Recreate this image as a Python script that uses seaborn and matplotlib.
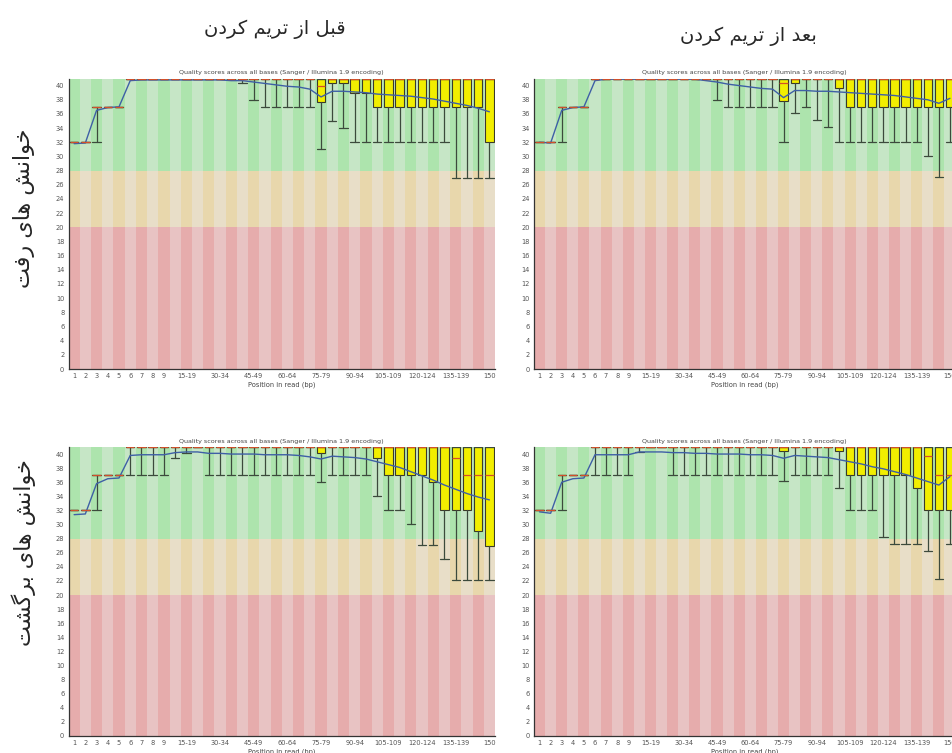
import matplotlib.pyplot as plt
import seaborn as sns

sns.set_style("white")
plt.rcParams['font.family'] = ['DejaVu Sans']

# ------------------ DATA ------------------ #
# FastQC position groups: 1..9, 10-14 ... 145-149, 150
groups = [str(i) for i in range(1, 10)] + ['%d-%d' % (s, s + 4) for s in range(10, 150, 5)] + ['150']
shown_ticks = ['1', '2', '3', '4', '5', '6', '7', '8', '9', '15-19', '30-34', '45-49', '60-64',
               '75-79', '90-94', '105-109', '120-124', '135-139', '150']

col_titles = ['قبل از تریم کردن', 'بعد از تریم کردن']
row_titles = ['خوانش های رفت', 'خوانش های برگشت']
plot_title = 'Quality scores across all bases (Sanger / Illumina 1.9 encoding)'

# forward reads, before trimming
fb_med = [32, 32, 37, 37, 37] + [41] * 17 + [40] + [41] * 15
fb_q1 = [32, 32, 37, 37, 37] + [41] * 17 + [37.7, 40.4, 40.4, 38.9, 38.9] + [37] * 10 + [32]
fb_q3 = [32, 32, 37, 37, 37] + [41] * 33
fb_lo = [32, 32, 32, 37, 37] + [41] * 10 + [40.4, 38] + [37] * 5 + [31, 35, 34] + [32] * 9 + [27] * 4
fb_mean = [31.8, 31.9, 36.5, 36.9, 37.0, 40.7, 40.8, 40.8, 40.8, 40.8, 40.8, 40.8, 40.8, 40.8,
           40.7, 40.7, 40.5, 40.3, 40.1, 39.9, 39.8, 39.5, 38.4, 39.2, 39.2, 39.1, 39.0, 38.8,
           38.7, 38.6, 38.5, 38.3, 38.1, 37.8, 37.5, 37.2, 36.8, 36.3]

# forward reads, after trimming
fa_med = [32, 32, 37, 37, 37] + [41] * 17 + [40.4] + [41] * 15
fa_q1 = [32, 32, 37, 37, 37] + [41] * 17 + [37.8, 40.4, 41, 41, 41, 39.7] + [37] * 10
fa_q3 = [32, 32, 37, 37, 37] + [41] * 33
fa_lo = [32, 32, 32, 37, 37] + [41] * 11 + [38] + [37] * 5 + [32, 36.2, 37, 35.1, 34.2, 32] \
    + [32] * 7 + [30.1, 27.1, 32]
fa_mean = [32.0, 31.9, 36.5, 36.9, 37.0, 40.7, 40.9, 40.9, 40.9, 40.9, 40.9, 40.9, 40.9, 40.9,
           40.9, 40.7, 40.5, 40.2, 40.0, 39.8, 39.6, 39.5, 38.3, 39.3, 39.3, 39.2, 39.2, 39.1,
           39.0, 38.9, 38.8, 38.7, 38.6, 38.4, 38.2, 38.0, 37.5, 38.2]

# reverse reads, before trimming
rb_med = [32, 32, 37, 37, 37] + [41] * 29 + [39.4, 37, 37, 37]
rb_q1 = [32, 32, 37, 37, 37] + [41] * 17 + [40.2, 41, 41, 41, 41, 39.5, 37, 37, 37, 37, 36.1,
                                             32, 32, 32, 29.1, 27]
rb_q3 = [32, 32, 37, 37, 37] + [41] * 33
rb_lo = [32, 32, 32, 37, 37, 37, 37, 37, 37, 39.4, 40.2, 41] + [37] * 10 + [36] + [37] * 4 \
    + [34.1, 32, 32, 30.1, 27.1, 27.1, 25.1, 22.1, 22.1, 22.1, 22.1]
rb_mean = [31.4, 31.5, 35.8, 36.5, 36.6, 39.8, 39.9, 39.9, 39.9, 40.2, 40.3, 40.3, 40.1, 40.1,
           40.0, 40.0, 40.0, 39.9, 39.9, 39.9, 39.8, 39.6, 39.3, 39.7, 39.6, 39.5, 39.3, 38.9,
           38.5, 38.1, 37.5, 36.9, 36.3, 35.6, 35.0, 34.4, 33.9, 33.5]

# reverse reads, after trimming
ra_med = [32, 32, 37, 37, 37] + [41] * 30 + [39.7, 37, 37]
ra_q1 = [32, 32, 37, 37, 37] + [41] * 17 + [40.4, 41, 41, 41, 41, 40.4] + [37] * 6 + [35.2, 32, 32, 32]
ra_q3 = [32, 32, 37, 37, 37] + [41] * 33
ra_lo = [32, 32, 32, 37, 37, 37, 37, 37, 37, 40.3, 41, 41] + [37] * 10 + [36.2] + [37] * 4 \
    + [35.2, 32, 32, 32, 28.2, 27.2, 27.2, 27.2, 26.2, 22.3, 27.2]
ra_mean = [31.8, 31.6, 36.0, 36.5, 36.6, 39.9, 39.9, 39.9, 39.9, 40.3, 40.3, 40.3, 40.2, 40.2,
           40.1, 40.1, 40.0, 40.0, 40.0, 39.9, 39.9, 39.8, 39.4, 39.8, 39.7, 39.6, 39.5, 39.2,
           38.9, 38.6, 38.2, 37.9, 37.5, 37.1, 36.6, 36.1, 35.6, 36.8]

panels = [
    (fb_med, fb_q1, fb_q3, fb_lo, fb_mean),
    (fa_med, fa_q1, fa_q3, fa_lo, fa_mean),
    (rb_med, rb_q1, rb_q3, rb_lo, rb_mean),
    (ra_med, ra_q1, ra_q3, ra_lo, ra_mean),
]

# ------------------ PERSIAN SHAPING ------------------ #
# (isolated, final, initial, medial) - None = letter never joins forward
FA_FORMS = {
    'ا': ('\ufe8d', '\ufe8e', None, None),
    'ب': ('\ufe8f', '\ufe90', '\ufe91', '\ufe92'),
    'ت': ('\ufe95', '\ufe96', '\ufe97', '\ufe98'),
    'خ': ('\ufea5', '\ufea6', '\ufea7', '\ufea8'),
    'د': ('\ufea9', '\ufeaa', None, None),
    'ر': ('\ufead', '\ufeae', None, None),
    'ز': ('\ufeaf', '\ufeb0', None, None),
    'ش': ('\ufeb5', '\ufeb6', '\ufeb7', '\ufeb8'),
    'ع': ('\ufec9', '\ufeca', '\ufecb', '\ufecc'),
    'ف': ('\ufed1', '\ufed2', '\ufed3', '\ufed4'),
    'ق': ('\ufed5', '\ufed6', '\ufed7', '\ufed8'),
    'ل': ('\ufedd', '\ufede', '\ufedf', '\ufee0'),
    'م': ('\ufee1', '\ufee2', '\ufee3', '\ufee4'),
    'ن': ('\ufee5', '\ufee6', '\ufee7', '\ufee8'),
    'ه': ('\ufee9', '\ufeea', '\ufeeb', '\ufeec'),
    'و': ('\ufeed', '\ufeee', None, None),
    'ک': ('\ufb8e', '\ufb8f', '\ufb90', '\ufb91'),
    'گ': ('\ufb92', '\ufb93', '\ufb94', '\ufb95'),
    'ی': ('\ufbfc', '\ufbfd', '\ufbfe', '\ufbff'),
}


def shape_fa(text):
    out = []
    for i, ch in enumerate(text):
        forms = FA_FORMS.get(ch)
        if forms is None:
            out.append(ch)
            continue
        prev = FA_FORMS.get(text[i - 1]) if i > 0 else None
        nxt = FA_FORMS.get(text[i + 1]) if i + 1 < len(text) else None
        join_prev = prev is not None and prev[2] is not None
        join_next = nxt is not None and forms[2] is not None
        if join_prev and join_next:
            out.append(forms[3])
        elif join_prev:
            out.append(forms[1])
        elif join_next:
            out.append(forms[2])
        else:
            out.append(forms[0])
    return ''.join(reversed(out))


# ------------------ PLOT ------------------ #
good = ['#ade4ad', '#c6e6c6']
poor = ['#e8d7ac', '#e8dec8']
bad = ['#e6acac', '#e8c3c3']

fig = plt.figure(figsize=(9.52, 7.53), dpi=100)
boxes = [
    [68.5 / 952, (753 - 369) / 753, 426.5 / 952, 290.5 / 753],
    [534 / 952, (753 - 369) / 753, 421.5 / 952, 290.5 / 753],
    [68.5 / 952, (753 - 736) / 753, 426.5 / 952, 289 / 753],
    [534 / 952, (753 - 736) / 753, 421.5 / 952, 289 / 753],
]

x = list(range(len(groups)))
for pos, (med, q1, q3, lo, mean) in zip(boxes, panels):
    ax = fig.add_axes(pos)
    shades = [i % 2 for i in x]
    ax.bar(x, [20] * len(x), bottom=0, width=1, color=[bad[s] for s in shades], lw=0)
    ax.bar(x, [8] * len(x), bottom=20, width=1, color=[poor[s] for s in shades], lw=0)
    ax.bar(x, [13] * len(x), bottom=28, width=1, color=[good[s] for s in shades], lw=0)

    stats = [dict(med=m, q1=a, q3=b, whislo=l, whishi=b, fliers=[])
             for m, a, b, l in zip(med, q1, q3, lo)]
    ax.bxp(stats, positions=x, widths=0.75, capwidths=0.75, patch_artist=True,
           manage_ticks=False,
           boxprops=dict(facecolor='#f2ee00', edgecolor='#3a3a2a', lw=0.8),
           whiskerprops=dict(color='#3c4a3c', lw=0.9),
           capprops=dict(color='#3c4a3c', lw=0.9),
           medianprops=dict(color='#d2502a', lw=0.9))
    sns.lineplot(x=x, y=mean, ax=ax, color='#3e5fa6', lw=1.0)

    ax.set_xlim(-0.5, len(x) - 0.5)
    ax.set_ylim(0, 41)
    ax.set_yticks(range(0, 41, 2))
    ax.set_yticklabels([str(v) for v in range(0, 41, 2)], fontsize=4.8, color='#555555')
    ax.set_xticks([groups.index(t) for t in shown_ticks])
    ax.set_xticklabels(shown_ticks, fontsize=4.8, color='#555555')
    ax.tick_params(length=0, pad=3)
    ax.set_xlabel('Position in read (bp)', fontsize=4.8, color='#444444', labelpad=1.5)
    ax.set_title(plot_title, fontsize=4.6, color='#444444', pad=3)
    for side in ['top', 'right']:
        ax.spines[side].set_visible(False)
    for side in ['left', 'bottom']:
        ax.spines[side].set_color('#333333')
        ax.spines[side].set_linewidth(0.9)

# Persian column / row headers
fig.text(275 / 952, 1 - 29 / 753, shape_fa(col_titles[0]), fontsize=14, ha='center', va='center')
fig.text(748 / 952, 1 - 36 / 753, shape_fa(col_titles[1]), fontsize=14, ha='center', va='center')
fig.text(24 / 952, 1 - 208 / 753, shape_fa(row_titles[0]), fontsize=16, rotation=90,
         ha='center', va='center')
fig.text(24 / 952, 1 - 553 / 753, shape_fa(row_titles[1]), fontsize=16, rotation=90,
         ha='center', va='center')

plt.savefig('out.png', dpi=100)
